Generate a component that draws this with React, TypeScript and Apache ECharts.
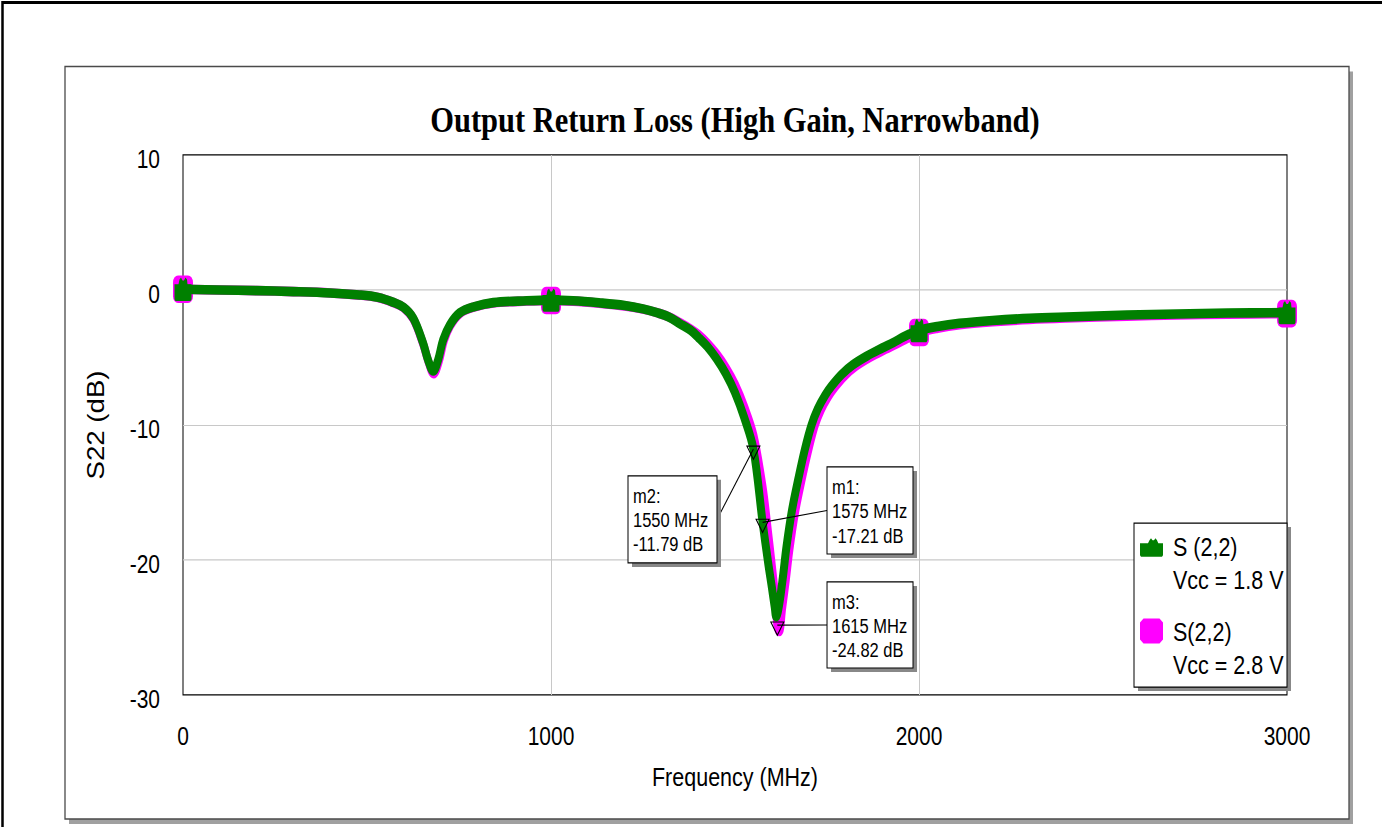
import React, { useEffect, useRef } from 'react';
import * as echarts from 'echarts';

// Chart is laid out on a 1382 x 689 canvas and stretched to the page height.
const CANVAS_W = 1382;
const CANVAS_H = 689;
const PAGE_H = 827;

const chartTitle = 'Output Return Loss (High Gain, Narrowband)';
const xAxisTitle = 'Frequency (MHz)';
const yAxisTitle = 'S22 (dB)';

const xTicks = { min: 0, max: 3000, step: 1000 };
const yTicks = { min: -30, max: 10, step: 10 };

const legendNames = ['S (2,2)\nVcc = 1.8 V', 'S(2,2)\nVcc = 2.8 V'];

// S22 in dB versus frequency in MHz, Vcc = 1.8 V
const s22Vcc18: [number, number][] = [
  [0, 0.05], [100, 0.0], [200, -0.05], [300, -0.12], [400, -0.22], [480, -0.37],
  [530, -0.55], [570, -0.9], [600, -1.3], [626, -2.1], [652, -3.9], [666, -5.2],
  [680, -6.0], [693, -5.2], [707, -3.7], [725, -2.6], [752, -1.7], [790, -1.25],
  [843, -0.94], [934, -0.8], [1000, -0.75], [1060, -0.8], [1130, -0.95], [1200, -1.15],
  [1250, -1.4], [1290, -1.7], [1320, -2.0], [1350, -2.5], [1380, -3.0], [1400, -3.5],
  [1425, -4.2], [1450, -5.1], [1475, -6.2], [1500, -7.6], [1525, -9.45], [1550, -11.79],
  [1575, -17.21], [1590, -20.2], [1600, -22.0], [1608, -23.5], [1612, -24.2], [1620, -23.3],
  [1630, -21.3], [1640, -19.0], [1655, -16.3], [1672, -14.0], [1690, -11.8], [1708, -10.0],
  [1725, -8.8], [1745, -7.8], [1763, -7.1], [1790, -6.25], [1820, -5.55], [1858, -4.9],
  [1900, -4.3], [1930, -3.9], [1960, -3.45], [2000, -3.0], [2050, -2.7], [2110, -2.47],
  [2200, -2.26], [2300, -2.1], [2400, -2.0], [2565, -1.86], [2700, -1.78], [2840, -1.71],
  [3000, -1.68],
];

// S22 in dB versus frequency in MHz, Vcc = 2.8 V
const s22Vcc28: [number, number][] = [
  [0, 0.05], [100, 0.0], [200, -0.05], [300, -0.12], [400, -0.22], [480, -0.38],
  [530, -0.56], [570, -0.92], [600, -1.32], [626, -2.15], [652, -3.95], [667, -5.3],
  [681, -6.2], [695, -5.3], [709, -3.75], [726, -2.65], [753, -1.72], [790, -1.27],
  [843, -0.96], [934, -0.82], [1000, -0.78], [1060, -0.83], [1130, -0.98], [1200, -1.18],
  [1250, -1.42], [1290, -1.7], [1320, -1.98], [1350, -2.42], [1380, -2.9], [1400, -3.3],
  [1425, -3.95], [1450, -4.75], [1475, -5.75], [1500, -7.0], [1525, -8.65], [1550, -10.75],
  [1575, -14.6], [1590, -18.0], [1600, -20.4], [1610, -23.0], [1615, -24.82], [1620, -25.3],
  [1628, -23.6], [1638, -21.5], [1648, -19.2], [1663, -16.5], [1680, -14.2], [1698, -12.0],
  [1716, -10.1], [1733, -8.9], [1753, -7.9], [1771, -7.2], [1798, -6.35], [1828, -5.65],
  [1866, -5.0], [1908, -4.4], [1938, -4.0], [1968, -3.58], [2000, -3.15], [2050, -2.83],
  [2110, -2.58], [2200, -2.36], [2300, -2.19], [2400, -2.08], [2565, -1.94], [2700, -1.86],
  [2840, -1.79], [3000, -1.75],
];

// Frequencies that carry a trace symbol
const symbolFreqs = [0, 1000, 2000, 3000];

// Readout markers
const markerNames = ['m1', 'm2', 'm3'];
const markerFreqs = [1575, 1550, 1615];
const markerDb = [-17.21, -11.79, -24.82];
const markerTrace = [0, 0, 1];

const GREEN = '#008000';
const MAGENTA = '#ff00ff';
const SANS = "'Liberation Sans', Arial, Helvetica, sans-serif";
const SERIF = "'Liberation Serif', 'Times New Roman', Times, serif";

// Trace symbols
const greenSymbol =
  'path://M0,5.5L4,5.5L5,1.5L6.5,0L8,2.5L9.5,2.5L11,0L12.5,1.5L13,5.5L17,5.5L17,18L16,19.5L1,19.5L0,18Z';
const markerTriangle = 'path://M0,0L12,0L6,11Z';

// Legend icons: the shape sits on the first text line, tiny corner anchors keep the box size
const legendAnchors = 'M0,0L0.01,0L0,0.01Z M28,54L27.99,54L28,53.99Z';
const greenLegendIcon =
  'path://M0,10.5L8,10.5L9.5,8L11,6.3L12.5,8L14,8L15.5,6.3L17,8L18.3,10.5L23,10.5L23,20.5L22,21.6L1,21.6L0,20.5Z ' +
  legendAnchors;
const magentaLegendIcon =
  'path://M3.5,2.1L19.5,2.1L23,5.5L23,19.5L19.5,22.9L3.5,22.9L0,19.5L0,5.5Z ' + legendAnchors;

// Readout box layout relative to its marker point
const boxLayout = [
  { dx: 64.4, dy: -46.1, w: 86, h: 72.5, side: 'left' },
  { dx: -125.4, dy: 22.3, w: 89, h: 72.5, side: 'right' },
  { dx: 49.7, dy: -35.9, w: 86, h: 71.7, side: 'left' },
];

function traceData(points: [number, number][], symbol: string, size: number[]) {
  return points.map(([f, v]) =>
    symbolFreqs.includes(f)
      ? { value: [f, v], symbol, symbolSize: size }
      : { value: [f, v], symbol: 'none' }
  );
}

function markerPoints(trace: number) {
  return markerNames
    .map((name, i) => ({ name, i }))
    .filter(({ i }) => markerTrace[i] === trace)
    .map(({ name, i }) => ({ name, coord: [markerFreqs[i], markerDb[i]] }));
}

function traceSeries(name: string, points: [number, number][], color: string, symbol: string, size: number[], trace: number, z: number) {
  return {
    type: 'line',
    name,
    z,
    data: traceData(points, symbol, size),
    showSymbol: true,
    showAllSymbol: true,
    smooth: 0.35,
    lineStyle: { color, width: 8, join: 'round' },
    itemStyle: { color },
    emphasis: { disabled: true },
    markPoint: {
      symbol: markerTriangle,
      symbolSize: [13, 11],
      symbolOffset: [0, 3],
      silent: true,
      itemStyle: { color: 'rgba(0,0,0,0)', borderColor: '#000', borderWidth: 1 },
      label: { show: false },
      data: markerPoints(trace),
    },
  };
}

export default function App() {
  const ref = useRef<HTMLDivElement>(null);

  useEffect(() => {
    if (!ref.current) return;
    const chart = echarts.init(ref.current, null, { renderer: 'svg', width: CANVAS_W, height: CANVAS_H });

    const axisLabelStyle = { color: '#000', fontFamily: SANS, fontSize: 21 };
    const gridLine = { show: true, showMinLine: false, showMaxLine: false, lineStyle: { color: '#c8c8c8', width: 1 } };

    chart.setOption({
      animation: false,
      backgroundColor: 'transparent',
      grid: {
        left: 183,
        right: 95,
        top: 129.1,
        bottom: 110,
        show: true,
        borderColor: '#000',
        borderWidth: 1,
        backgroundColor: 'transparent',
      },
      legend: {
        orient: 'vertical',
        left: 1140,
        top: 442.2,
        padding: 0,
        itemWidth: 28,
        itemHeight: 54,
        itemGap: 17,
        symbolKeepAspect: false,
        selectedMode: false,
        textStyle: { color: '#000', fontFamily: SANS, fontSize: 21.5, lineHeight: 27 },
        data: [
          { name: legendNames[0], icon: greenLegendIcon },
          { name: legendNames[1], icon: magentaLegendIcon },
        ],
      },
      xAxis: {
        type: 'value',
        min: xTicks.min,
        max: xTicks.max,
        interval: xTicks.step,
        axisLine: { show: false },
        axisTick: { show: false },
        axisLabel: { ...axisLabelStyle, margin: 24, formatter: (v: number) => String(v) },
        splitLine: gridLine,
        name: xAxisTitle,
        nameLocation: 'middle',
        nameGap: 57,
        nameTextStyle: { color: '#000', fontFamily: SANS, fontSize: 21.5 },
      },
      yAxis: {
        type: 'value',
        min: yTicks.min,
        max: yTicks.max,
        interval: yTicks.step,
        axisLine: { show: false },
        axisTick: { show: false },
        axisLabel: {
          ...axisLabelStyle,
          margin: 23,
          verticalAlign: 'top',
          lineHeight: 6.6,
          formatter: (v: number) => String(v),
        },
        splitLine: gridLine,
        name: yAxisTitle,
        nameLocation: 'middle',
        nameRotate: 90,
        nameGap: 76,
        nameTextStyle: { color: '#000', fontFamily: SANS, fontSize: 23 },
      },
      series: [
        traceSeries(legendNames[0], s22Vcc18, GREEN, greenSymbol, [17, 19.5], 0, 3),
        traceSeries(legendNames[1], s22Vcc28, MAGENTA, 'roundRect', [20, 23], 1, 2),
      ],
    });

    // Frames, title, legend box and readout boxes
    const graphics: any[] = [
      {
        type: 'rect', z: -10, silent: true,
        shape: { x: 2.5, y: 2.1, width: 1420, height: 900 },
        style: { fill: 'none', stroke: '#000', lineWidth: 2.5 },
      },
      {
        type: 'rect', z: -9, silent: true,
        shape: { x: 69, y: 59.5, width: 1284, height: 627 },
        style: { fill: '#a0a0a0' },
      },
      {
        type: 'rect', z: -8, silent: true,
        shape: { x: 65, y: 55.4, width: 1284, height: 627 },
        style: { fill: '#fff', stroke: '#4a4a4a', lineWidth: 1.3 },
      },
      {
        type: 'text', z: 5, silent: true, x: 735, y: 99.5,
        style: {
          text: chartTitle, fill: '#000', fontFamily: SERIF, fontWeight: 'bold', fontSize: 30.5,
          align: 'center', verticalAlign: 'middle', textAlign: 'center', textVerticalAlign: 'middle',
        },
      },
      {
        type: 'rect', z: 3, silent: true,
        shape: { x: 1138, y: 439.1, width: 153, height: 136.6 },
        style: { fill: '#888' },
      },
      {
        type: 'rect', z: 3, silent: true,
        shape: { x: 1134, y: 435.8, width: 153, height: 136.6 },
        style: { fill: '#fff', stroke: '#000', lineWidth: 1 },
      },
    ];

    markerNames.forEach((name, i) => {
      const p = chart.convertToPixel({ gridIndex: 0 }, [markerFreqs[i], markerDb[i]]) as number[];
      const b = boxLayout[i];
      const left = p[0] + b.dx;
      const top = p[1] + b.dy;
      const edgeX = b.side === 'left' ? left : left + b.w;
      const edgeY = top + b.h / 2;
      graphics.push(
        {
          type: 'line', z: 50, silent: true,
          shape: { x1: edgeX, y1: edgeY, x2: p[0], y2: p[1] },
          style: { stroke: '#000', lineWidth: 1 },
        },
        {
          type: 'rect', z: 50, silent: true,
          shape: { x: left + 4, y: top + 3.3, width: b.w, height: b.h },
          style: { fill: '#888' },
        },
        {
          type: 'rect', z: 51, silent: true,
          shape: { x: left, y: top, width: b.w, height: b.h },
          style: { fill: '#fff', stroke: '#000', lineWidth: 1 },
        },
        {
          type: 'text', z: 52, silent: true, x: left + 5, y: top + 7.5,
          style: {
            text: `${name}:\n${markerFreqs[i]} MHz\n${markerDb[i].toFixed(2)} dB`,
            fill: '#000', fontFamily: SANS, fontSize: 16.5, lineHeight: 20,
            align: 'left', verticalAlign: 'top', textAlign: 'left', textVerticalAlign: 'top',
          },
        }
      );
    });

    chart.setOption({ graphic: graphics });

    return () => chart.dispose();
  }, []);

  return (
    <div
      ref={ref}
      style={{
        position: 'absolute',
        left: 0,
        top: 0,
        width: CANVAS_W,
        height: CANVAS_H,
        transform: `scaleY(${PAGE_H / CANVAS_H})`,
        transformOrigin: '0 0',
        background: '#fff',
      }}
    />
  );
}
